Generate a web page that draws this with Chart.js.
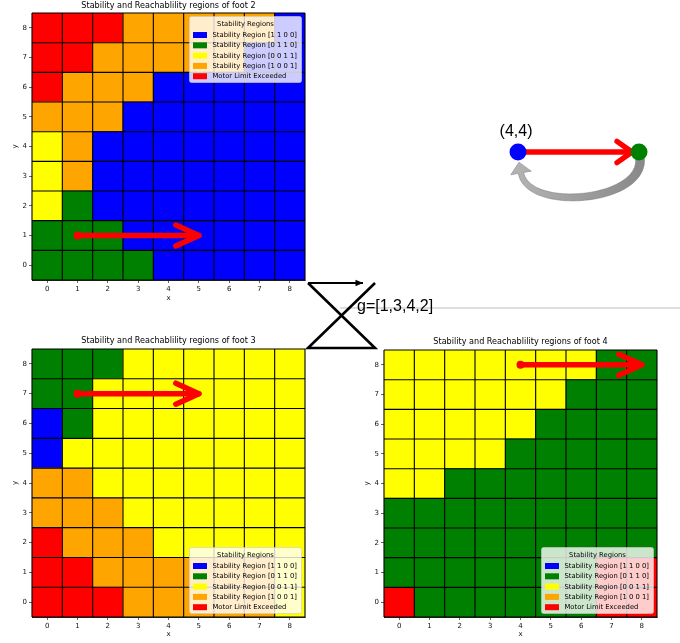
<!DOCTYPE html>
<html>
<head>
<meta charset="utf-8">
<script src="https://cdn.jsdelivr.net/npm/chart.js@4/dist/chart.umd.min.js"></script>
<style>
  html, body { margin: 0; padding: 0; background: #fff; }
  body { width: 680px; height: 643px; position: relative; overflow: hidden; }
  .panel { position: absolute; }
  canvas { display: block; }
</style>
</head>
<body>
<div class="panel" style="left:0;top:0"><canvas id="foot2" width="310" height="305"></canvas></div>
<div class="panel" style="left:0;top:335px"><canvas id="foot3" width="310" height="308"></canvas></div>
<div class="panel" style="left:352px;top:336px"><canvas id="foot4" width="328" height="307"></canvas></div>
<div class="panel" style="left:300px;top:100px"><canvas id="diagram" width="380" height="255"></canvas></div>
<script>
// ---- grid axes ----
const xLabels = ['0', '1', '2', '3', '4', '5', '6', '7', '8'];
const yTicks = [0, 1, 2, 3, 4, 5, 6, 7, 8];

// ---- region classes (index used in the grids below) ----
const regionNames = [
  'Stability Region [1 1 0 0]',
  'Stability Region [0 1 1 0]',
  'Stability Region [0 0 1 1]',
  'Stability Region [1 0 0 1]',
  'Motor Limit Exceeded'
];
const regionColors = ['#0000ff', '#008000', '#ffff00', '#ffa500', '#ff0000'];

// Region index per cell; rows listed from y = 8 (top) down to y = 0, columns x = 0..8
const foot2Rows = [
  [4, 4, 4, 3, 3, 3, 3, 3, 0],
  [4, 4, 3, 3, 3, 3, 3, 0, 0],
  [4, 3, 3, 3, 0, 0, 0, 0, 0],
  [3, 3, 3, 0, 0, 0, 0, 0, 0],
  [2, 3, 0, 0, 0, 0, 0, 0, 0],
  [2, 3, 0, 0, 0, 0, 0, 0, 0],
  [2, 1, 0, 0, 0, 0, 0, 0, 0],
  [1, 1, 1, 0, 0, 0, 0, 0, 0],
  [1, 1, 1, 1, 0, 0, 0, 0, 0]
];
const foot3Rows = [
  [1, 1, 1, 2, 2, 2, 2, 2, 2],
  [1, 1, 2, 2, 2, 2, 2, 2, 2],
  [0, 1, 2, 2, 2, 2, 2, 2, 2],
  [0, 2, 2, 2, 2, 2, 2, 2, 2],
  [3, 3, 2, 2, 2, 2, 2, 2, 2],
  [3, 3, 3, 2, 2, 2, 2, 2, 2],
  [4, 3, 3, 3, 2, 2, 2, 2, 2],
  [4, 4, 3, 3, 3, 3, 3, 3, 2],
  [4, 4, 4, 3, 3, 3, 3, 3, 2]
];
const foot4Rows = [
  [2, 2, 2, 2, 2, 2, 2, 1, 1],
  [2, 2, 2, 2, 2, 2, 1, 1, 1],
  [2, 2, 2, 2, 2, 1, 1, 1, 1],
  [2, 2, 2, 2, 1, 1, 1, 1, 1],
  [2, 2, 1, 1, 1, 1, 1, 1, 1],
  [1, 1, 1, 1, 1, 1, 1, 1, 1],
  [1, 1, 1, 1, 1, 1, 1, 1, 1],
  [1, 1, 1, 1, 1, 1, 1, 4, 4],
  [4, 1, 1, 1, 1, 1, 1, 4, 4]
];

// foot moves drawn as arrows: [x, y] start and end
const foot2Move = [[1, 1], [5, 1]];
const foot3Move = [[1, 7], [5, 7]];
const foot4Move = [[4, 8], [8, 8]];

// ---- schematic on the right: two footholds and the transfer between them ----
const nodeX = [4, 8];
const nodeY = [4, 4];
const nodeColors = ['#0000ff', '#008000'];
const nodeLabel = '(4,4)';
// gait sequence glyph (bow-tie) and caption
const bowtieX = [-2.942, -0.727, -2.942, -0.727];
const bowtieY = [-0.331, -2.479, -2.479, -0.331];
const gaitArrowX = [-2.942, -1.124];
const gaitArrowY = [-0.331, -0.331];
const gaitText = 'g=[1,3,4,2]';
const gaitTextPos = [-1.322, -1.124];
const dividerX = [-1.884, 9.36];
const dividerY = [-1.157, -1.157];

const MPL_FONT = '"DejaVu Sans", sans-serif';

// Cells as floating bars, one dataset per grid row
function gridDatasets(rows) {
  const datasets = [];
  for (let y = 0; y < yTicks.length; y++) {
    const row = rows[rows.length - 1 - y];
    datasets.push({
      data: xLabels.map(() => [yTicks[y] - 0.5, yTicks[y] + 0.5]),
      backgroundColor: row.map(r => regionColors[r]),
      borderWidth: 0,
      inflateAmount: 0.4,
      grouped: false,
      barPercentage: 1,
      categoryPercentage: 1
    });
  }
  return datasets;
}

// Black cell edges at the half-unit boundaries of both scales
const cellEdges = {
  id: 'cellEdges',
  afterDatasetsDraw(chart) {
    const { ctx, chartArea: a } = chart;
    const xs = chart.scales.x, ys = chart.scales.y;
    ctx.save();
    ctx.strokeStyle = '#000';
    ctx.lineWidth = 1.1;
    ctx.beginPath();
    for (let i = 0; i <= xLabels.length; i++) {
      const px = (xs.getPixelForValue(Math.max(i - 1, 0)) + xs.getPixelForValue(Math.min(i, xLabels.length - 1))) / 2;
      const ex = i === 0 ? a.left : i === xLabels.length ? a.right : px;
      ctx.moveTo(ex, a.top);
      ctx.lineTo(ex, a.bottom);
    }
    for (let j = 0; j <= yTicks.length; j++) {
      const py = ys.getPixelForValue(j - 0.5);
      ctx.moveTo(a.left, py);
      ctx.lineTo(a.right, py);
    }
    ctx.stroke();
    ctx.restore();
  }
};

// Matplotlib-style legend drawn inside the plot area
const regionLegend = {
  id: 'regionLegend',
  afterDraw(chart, args, opts) {
    const { ctx, chartArea: a } = chart;
    const w = 112, h = 66, inset = 3.5;
    const left = a.right - inset - w;
    const top = opts.corner === 'top' ? a.top + inset : a.bottom - inset - h;
    ctx.save();
    ctx.beginPath();
    ctx.roundRect(left, top, w, h, 2);
    ctx.fillStyle = 'rgba(255,255,255,0.8)';
    ctx.fill();
    ctx.strokeStyle = 'rgba(204,204,204,0.8)';
    ctx.lineWidth = 0.8;
    ctx.stroke();
    ctx.font = '6.8px ' + MPL_FONT;
    ctx.fillStyle = '#000';
    ctx.textBaseline = 'middle';
    ctx.textAlign = 'center';
    ctx.fillText('Stability Regions', left + w / 2, top + 7.5);
    ctx.textAlign = 'left';
    regionNames.forEach((name, i) => {
      const cy = top + 18.5 + i * 10.3;
      ctx.fillStyle = regionColors[i];
      ctx.fillRect(left + 3.5, cy - 3, 14, 6);
      ctx.fillStyle = '#000';
      ctx.fillText(name, left + 23, cy + 0.3);
    });
    ctx.restore();
  }
};

// Red move arrow with a round start marker and an open chevron head
const moveArrow = {
  id: 'moveArrow',
  afterDatasetsDraw(chart, args, opts) {
    const { ctx } = chart;
    const xs = chart.scales.x, ys = chart.scales.y;
    const [from, to] = opts.move;
    const x0 = xs.getPixelForValue(from[0]), y0 = ys.getPixelForValue(from[1]);
    const x1 = xs.getPixelForValue(to[0]), y1 = ys.getPixelForValue(to[1]);
    ctx.save();
    ctx.strokeStyle = '#ff0000';
    ctx.fillStyle = '#ff0000';
    ctx.lineWidth = 5.5;
    ctx.lineCap = 'round';
    ctx.lineJoin = 'round';
    ctx.beginPath();
    ctx.moveTo(x0, y0);
    ctx.lineTo(x1, y1);
    ctx.stroke();
    ctx.beginPath();
    ctx.moveTo(x1 - 23, y1 - 10.5);
    ctx.lineTo(x1, y1);
    ctx.lineTo(x1 - 23, y1 + 10.5);
    ctx.stroke();
    ctx.beginPath();
    ctx.arc(x0, y0, 4, 0, Math.PI * 2);
    ctx.fill();
    ctx.restore();
  }
};

function footChart(id, rows, title, move, legendCorner, xAxisHeight, titleBottom) {
  const tickFont = { family: MPL_FONT, size: 7 };
  return new Chart(document.getElementById(id), {
    type: 'bar',
    data: { labels: xLabels, datasets: gridDatasets(rows) },
    options: {
      responsive: false,
      devicePixelRatio: 1,
      animation: false,
      events: [],
      layout: { autoPadding: false, padding: { left: 0, right: id === 'foot4' ? 23 : 5, top: 0, bottom: 0 } },
      scales: {
        x: {
          type: 'category',
          offset: true,
          grid: { drawOnChartArea: false, drawTicks: true, tickLength: 3, color: '#000', lineWidth: 0.6, offset: false },
          border: { display: true, color: '#000', width: 0.8 },
          ticks: { font: tickFont, color: '#111', padding: 1.5, maxRotation: 0 },
          title: { display: true, text: 'x', font: tickFont, color: '#111', padding: { top: 0, bottom: xAxisHeight === 25 ? 3 : 4.5 } },
          afterFit(scale) { scale.height = xAxisHeight; }
        },
        y: {
          type: 'linear',
          min: -0.5,
          max: 8.5,
          afterBuildTicks(scale) { scale.ticks = yTicks.map(v => ({ value: v })); },
          grid: { drawOnChartArea: false, drawTicks: true, tickLength: 3, color: '#000', lineWidth: 0.6 },
          border: { display: true, color: '#000', width: 0.8 },
          ticks: { font: tickFont, color: '#111', padding: 2 },
          title: { display: true, text: 'y', font: tickFont, color: '#111', padding: { top: 11, bottom: 0 } },
          afterFit(scale) { scale.width = 32; }
        }
      },
      plugins: {
        legend: { display: false },
        tooltip: { enabled: false },
        title: {
          display: true,
          text: title,
          fullSize: false,
          color: '#000',
          font: { family: MPL_FONT, size: 8.1, weight: 'normal', lineHeight: 1.2 },
          padding: { top: 1.5, bottom: titleBottom + 0.5 }
        },
        regionLegend: { corner: legendCorner },
        moveArrow: { move }
      }
    },
    plugins: [cellEdges, regionLegend, moveArrow]
  });
}

footChart('foot2', foot2Rows, 'Stability and Reachablility regions of foot 2', foot2Move, 'top', 25, 1.3);
footChart('foot3', foot3Rows, 'Stability and Reachablility regions of foot 3', foot3Move, 'bottom', 26, 2.3);
footChart('foot4', foot4Rows, 'Stability and Reachablility regions of foot 4', foot4Move, 'bottom', 26, 2.3);

// ---- schematic ----
const schematicMarks = {
  id: 'schematicMarks',
  beforeDatasetsDraw(chart) {
    const { ctx } = chart;
    const xs = chart.scales.x, ys = chart.scales.y;
    const ax = xs.getPixelForValue(nodeX[0]), ay = ys.getPixelForValue(nodeY[0]);
    const bx = xs.getPixelForValue(nodeX[1]), by = ys.getPixelForValue(nodeY[1]);
    ctx.save();
    // return transfer: tapered grey curve from the second node back under the first
    const S = [bx + 1, by + 7], C1 = [bx + 4, by + 50], C2 = [ax + 10, by + 60], E = [ax + 3, ay + 21];
    const pt = t => {
      const u = 1 - t;
      return [
        u * u * u * S[0] + 3 * u * u * t * C1[0] + 3 * u * t * t * C2[0] + t * t * t * E[0],
        u * u * u * S[1] + 3 * u * u * t * C1[1] + 3 * u * t * t * C2[1] + t * t * t * E[1]
      ];
    };
    const der = t => {
      const u = 1 - t;
      return [
        3 * u * u * (C1[0] - S[0]) + 6 * u * t * (C2[0] - C1[0]) + 3 * t * t * (E[0] - C2[0]),
        3 * u * u * (C1[1] - S[1]) + 6 * u * t * (C2[1] - C1[1]) + 3 * t * t * (E[1] - C2[1])
      ];
    };
    const sideA = [], sideB = [];
    const N = 48;
    for (let i = 0; i <= N; i++) {
      const t = i / N;
      const p = pt(t), d = der(t);
      const len = Math.hypot(d[0], d[1]) || 1;
      const nx = -d[1] / len, ny = d[0] / len;
      const half = (9 - 3.5 * t) / 2;
      sideA.push([p[0] + nx * half, p[1] + ny * half]);
      sideB.push([p[0] - nx * half, p[1] - ny * half]);
    }
    const dE = der(1), lE = Math.hypot(dE[0], dE[1]);
    const ux = dE[0] / lE, uy = dE[1] / lE, nx = -uy, ny = ux;
    ctx.beginPath();
    ctx.moveTo(sideA[0][0], sideA[0][1]);
    sideA.forEach(p => ctx.lineTo(p[0], p[1]));
    ctx.lineTo(E[0] + nx * 10.5, E[1] + ny * 10.5);
    ctx.lineTo(E[0] + ux * 11, E[1] + uy * 11);
    ctx.lineTo(E[0] - nx * 10.5, E[1] - ny * 10.5);
    for (let i = sideB.length - 1; i >= 0; i--) ctx.lineTo(sideB[i][0], sideB[i][1]);
    ctx.closePath();
    const grad = ctx.createLinearGradient(bx, 0, ax, 0);
    grad.addColorStop(0, '#8a8a8a');
    grad.addColorStop(1, '#b2b2b2');
    ctx.fillStyle = grad;
    ctx.fill();
    ctx.strokeStyle = 'rgba(110,110,110,0.6)';
    ctx.lineWidth = 0.7;
    ctx.stroke();
    // forward transfer: red arrow from first node to second
    const tipX = bx - 7;
    ctx.strokeStyle = '#ff0000';
    ctx.lineWidth = 5.3;
    ctx.lineCap = 'round';
    ctx.lineJoin = 'round';
    ctx.beginPath();
    ctx.moveTo(ax, ay);
    ctx.lineTo(tipX, by);
    ctx.stroke();
    ctx.beginPath();
    ctx.moveTo(tipX - 15, by - 10.7);
    ctx.lineTo(tipX, by);
    ctx.lineTo(tipX - 15, by + 10.7);
    ctx.stroke();
    ctx.restore();
  },
  afterDatasetsDraw(chart) {
    const { ctx } = chart;
    const xs = chart.scales.x, ys = chart.scales.y;
    ctx.save();
    ctx.fillStyle = '#000';
    ctx.font = '16px "Liberation Sans", Arial, sans-serif';
    ctx.textAlign = 'center';
    ctx.textBaseline = 'middle';
    ctx.fillText(nodeLabel, xs.getPixelForValue(nodeX[0]) - 2, ys.getPixelForValue(nodeY[0]) - 20);
    ctx.textAlign = 'left';
    ctx.fillText(gaitText, xs.getPixelForValue(gaitTextPos[0]), ys.getPixelForValue(gaitTextPos[1]));
    // head of the gait arrow
    const hx = xs.getPixelForValue(gaitArrowX[1]), hy = ys.getPixelForValue(gaitArrowY[1]);
    ctx.beginPath();
    ctx.moveTo(hx, hy);
    ctx.lineTo(hx - 7.5, hy - 3.3);
    ctx.lineTo(hx - 7.5, hy + 3.3);
    ctx.closePath();
    ctx.fill();
    ctx.restore();
  }
};

new Chart(document.getElementById('diagram'), {
  type: 'scatter',
  data: {
    datasets: [
      {
        data: nodeX.map((x, i) => ({ x, y: nodeY[i] })),
        backgroundColor: nodeColors,
        borderWidth: 0,
        pointRadius: 8.5,
        clip: false
      },
      {
        type: 'line',
        data: gaitArrowX.map((x, i) => ({ x, y: gaitArrowY[i] })),
        borderColor: '#000',
        borderWidth: 2,
        pointRadius: 0,
        fill: false,
        clip: false
      },
      {
        type: 'line',
        data: bowtieX.map((x, i) => ({ x, y: bowtieY[i] })),
        borderColor: '#000',
        borderWidth: 2.6,
        pointRadius: 0,
        fill: false,
        clip: false
      },
      {
        type: 'line',
        data: dividerX.map((x, i) => ({ x, y: dividerY[i] })),
        borderColor: '#bdbdbd',
        borderWidth: 1,
        pointRadius: 0,
        fill: false,
        clip: false
      }
    ]
  },
  options: {
    responsive: false,
    devicePixelRatio: 1,
    animation: false,
    events: [],
    layout: { autoPadding: false, padding: 0 },
    scales: {
      x: { type: 'linear', display: false, min: -3.207, max: 9.355 },
      y: { type: 'linear', display: false, min: -2.711, max: 5.719 }
    },
    plugins: { legend: { display: false }, tooltip: { enabled: false } }
  },
  plugins: [schematicMarks]
});
</script>
</body>
</html>
